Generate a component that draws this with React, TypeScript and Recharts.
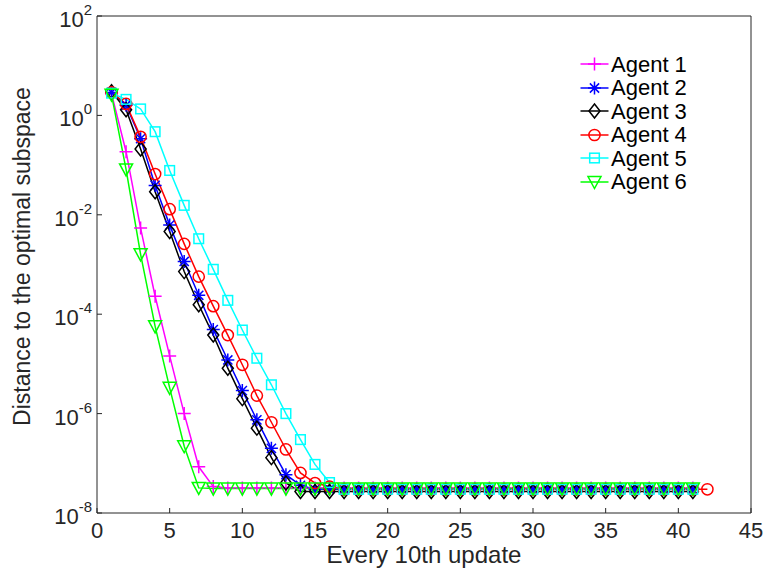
import { Line, LineChart, XAxis, YAxis } from "recharts";

const FONT = '"Liberation Sans", Arial, Helvetica, sans-serif';
const AXIS = "#262626";

const xTicks = [0, 5, 10, 15, 20, 25, 30, 35, 40, 45];
const yTicks = [1e-8, 1e-6, 1e-4, 1e-2, 1, 100];

// values read per update index, starting at 1
const agent1 = [
  2.75, 0.186, 5.4e-3, 2.3e-4, 1.45e-5, 1.0e-6, 8.5e-8, 3.4e-8, 3.2e-8, 3.2e-8,
  3.2e-8, 3.2e-8, 3.2e-8, 3.2e-8, 3.2e-8, 3.2e-8, 3.2e-8, 3.2e-8, 3.2e-8, 3.2e-8,
  3.2e-8, 3.2e-8, 3.2e-8, 3.2e-8, 3.2e-8, 3.2e-8, 3.2e-8, 3.2e-8, 3.2e-8, 3.2e-8,
  3.2e-8, 3.2e-8, 3.2e-8, 3.2e-8, 3.2e-8, 3.2e-8, 3.2e-8, 3.2e-8, 3.2e-8, 3.2e-8,
  3.2e-8,
];
const agent2 = [
  2.9, 1.6, 0.34, 0.039, 6.2e-3, 1.15e-3, 2.4e-4, 4.9e-5, 1.2e-5, 2.9e-6,
  7.5e-7, 2.0e-7, 5.9e-8, 3.6e-8, 3.0e-8, 3.0e-8, 3.0e-8, 3.0e-8, 3.0e-8, 3.0e-8,
  3.0e-8, 3.0e-8, 3.0e-8, 3.0e-8, 3.0e-8, 3.0e-8, 3.0e-8, 3.0e-8, 3.0e-8, 3.0e-8,
  3.0e-8, 3.0e-8, 3.0e-8, 3.0e-8, 3.0e-8, 3.0e-8, 3.0e-8, 3.0e-8, 3.0e-8, 3.0e-8,
  3.0e-8,
];
const agent3 = [
  3.0, 1.3, 0.21, 0.029, 4.6e-3, 7.2e-4, 1.55e-4, 3.8e-5, 8.2e-6, 2.0e-6,
  5.1e-7, 1.3e-7, 4.0e-8, 2.7e-8, 2.7e-8, 2.7e-8, 2.7e-8, 2.7e-8, 2.7e-8, 2.7e-8,
  2.7e-8, 2.7e-8, 2.7e-8, 2.7e-8, 2.7e-8, 2.7e-8, 2.7e-8, 2.7e-8, 2.7e-8, 2.7e-8,
  2.7e-8, 2.7e-8, 2.7e-8, 2.7e-8, 2.7e-8, 2.7e-8, 2.7e-8, 2.7e-8, 2.7e-8, 2.7e-8,
  2.7e-8,
];
const agent4 = [
  2.9, 1.7, 0.37, 0.066, 0.013, 2.6e-3, 5.7e-4, 1.45e-4, 3.8e-5, 9.6e-6,
  2.3e-6, 6.7e-7, 1.9e-7, 6.4e-8, 4.0e-8, 3.4e-8, 3.0e-8, 3.0e-8, 3.0e-8, 3.0e-8,
  3.0e-8, 3.0e-8, 3.0e-8, 3.0e-8, 3.0e-8, 3.0e-8, 3.0e-8, 3.0e-8, 3.0e-8, 3.0e-8,
  3.0e-8, 3.0e-8, 3.0e-8, 3.0e-8, 3.0e-8, 3.0e-8, 3.0e-8, 3.0e-8, 3.0e-8, 3.0e-8,
  3.0e-8, 3.0e-8,
];
const agent5 = [
  2.8, 2.1, 1.35, 0.47, 0.078, 0.0155, 3.3e-3, 8.0e-4, 1.9e-4, 4.8e-5,
  1.3e-5, 3.8e-6, 1.0e-6, 3.0e-7, 9.5e-8, 4.1e-8, 3.0e-8, 3.0e-8, 3.0e-8, 3.0e-8,
  3.0e-8, 3.0e-8, 3.0e-8, 3.0e-8, 3.0e-8, 3.0e-8, 3.0e-8, 3.0e-8, 3.0e-8, 3.0e-8,
  3.0e-8, 3.0e-8, 3.0e-8, 3.0e-8, 3.0e-8, 3.0e-8, 3.0e-8, 3.0e-8, 3.0e-8, 3.0e-8,
  3.0e-8,
];
const agent6 = [
  2.6, 0.082, 1.6e-3, 5.7e-5, 3.3e-6, 2.2e-7, 3.2e-8, 3.1e-8, 3.1e-8, 3.1e-8,
  3.1e-8, 3.1e-8, 3.1e-8, 3.1e-8, 3.1e-8, 3.1e-8, 3.1e-8, 3.1e-8, 3.1e-8, 3.1e-8,
  3.1e-8, 3.1e-8, 3.1e-8, 3.1e-8, 3.1e-8, 3.1e-8, 3.1e-8, 3.1e-8, 3.1e-8, 3.1e-8,
  3.1e-8, 3.1e-8, 3.1e-8, 3.1e-8, 3.1e-8, 3.1e-8, 3.1e-8, 3.1e-8, 3.1e-8, 3.1e-8,
  3.1e-8,
];

const AGENTS = [
  { key: "a1", name: "Agent 1", color: "#ff00ff", marker: "plus", values: agent1 },
  { key: "a2", name: "Agent 2", color: "#0000ff", marker: "star", values: agent2 },
  { key: "a3", name: "Agent 3", color: "#000000", marker: "diamond", values: agent3 },
  { key: "a4", name: "Agent 4", color: "#ff0000", marker: "circle", values: agent4 },
  { key: "a5", name: "Agent 5", color: "#00ffff", marker: "square", values: agent5 },
  { key: "a6", name: "Agent 6", color: "#00ff00", marker: "tri", values: agent6 },
];

const maxLen = Math.max(...AGENTS.map((a) => a.values.length));
const rows = Array.from({ length: maxLen }, (_, i) => {
  const r: Record<string, number> = { x: i + 1 };
  AGENTS.forEach((a) => {
    if (i < a.values.length) r[a.key] = a.values[i];
  });
  return r;
});

function Marker(props: { kind: string; cx: number; cy: number; color: string }) {
  const { kind, cx, cy, color } = props;
  const common = { stroke: color, strokeWidth: 1.5, fill: "none" };
  switch (kind) {
    case "plus":
      return <path d={`M${cx - 6.5},${cy}H${cx + 6.5}M${cx},${cy - 6.5}V${cy + 6.5}`} {...common} />;
    case "star": {
      const d = 4.6;
      return (
        <path
          d={`M${cx - 6.5},${cy}H${cx + 6.5}M${cx},${cy - 6.5}V${cy + 6.5}M${cx - d},${cy - d}L${cx + d},${cy + d}M${cx - d},${cy + d}L${cx + d},${cy - d}`}
          {...common}
        />
      );
    }
    case "diamond":
      return <path d={`M${cx},${cy - 7}L${cx + 5.5},${cy}L${cx},${cy + 7}L${cx - 5.5},${cy}Z`} {...common} />;
    case "circle":
      return <circle cx={cx} cy={cy} r={5.6} {...common} />;
    case "square":
      return <rect x={cx - 4.8} y={cy - 4.8} width={9.6} height={9.6} {...common} />;
    default:
      return <path d={`M${cx - 6.5},${cy - 5.5}L${cx + 6.5},${cy - 5.5}L${cx},${cy + 6.5}Z`} {...common} />;
  }
}

function XTick(props: any) {
  const { x, y, payload } = props;
  return (
    <text x={x} y={y} textAnchor="middle" fontFamily={FONT} fontSize={22} fill={AXIS}>
      {payload.value}
    </text>
  );
}

function YTick(props: any) {
  const { x, y, payload } = props;
  const exp = Math.round(Math.log10(payload.value));
  return (
    <text x={x} y={y + 11} textAnchor="end" fontFamily={FONT} fontSize={22} fill={AXIS}>
      <tspan>10</tspan>
      <tspan dy={-12} fontSize={15}>
        {exp}
      </tspan>
    </text>
  );
}

const XLabel = () => (
  <text x={424} y={563} textAnchor="middle" fontFamily={FONT} fontSize={24} fill={AXIS}>
    Every 10th update
  </text>
);

const YLabel = () => (
  <text
    x={0}
    y={0}
    transform="translate(29.5,256.5) rotate(-90)"
    textAnchor="middle"
    fontFamily={FONT}
    fontSize={23}
    fill={AXIS}
  >
    Distance to the optimal subspace
  </text>
);

function LegendBox() {
  return (
    <div style={{ position: "absolute", left: 578, top: 52.5, fontFamily: FONT, fontSize: 22 }}>
      {AGENTS.map((a) => (
        <div key={a.key} style={{ display: "flex", alignItems: "center", height: 23.5 }}>
          <svg width={33} height={20} style={{ display: "block" }}>
            <line x1={2.5} y1={10} x2={30.5} y2={10} stroke={a.color} strokeWidth={1.5} />
            <Marker kind={a.marker} cx={16.5} cy={10} color={a.color} />
          </svg>
          <span style={{ color: "#000", lineHeight: "23.5px", whiteSpace: "nowrap" }}>{a.name}</span>
        </div>
      ))}
    </div>
  );
}

export default function App() {
  return (
    <div style={{ position: "absolute", left: 0, top: 0, width: 765, height: 571, background: "#fff" }}>
      <LineChart width={765} height={571} data={rows} margin={{ top: 0, right: 0, bottom: 0, left: 0 }}>
        <XAxis
          dataKey="x"
          type="number"
          domain={[0, 45]}
          ticks={xTicks}
          height={58}
          stroke={AXIS}
          tickSize={-5}
          tickMargin={30}
          tick={<XTick />}
          label={XLabel}
        />
        <XAxis
          xAxisId="top"
          orientation="top"
          dataKey="x"
          type="number"
          domain={[0, 45]}
          ticks={xTicks}
          height={16}
          stroke={AXIS}
          tickSize={-5}
          tick={false}
        />
        <YAxis
          scale="log"
          type="number"
          domain={[1e-8, 100]}
          ticks={yTicks}
          width={97}
          stroke={AXIS}
          tickSize={-5}
          tickMargin={10}
          tick={<YTick />}
          allowDataOverflow
          label={YLabel}
        />
        <YAxis
          yAxisId="right"
          orientation="right"
          scale="log"
          type="number"
          domain={[1e-8, 100]}
          ticks={yTicks}
          width={14}
          stroke={AXIS}
          tickSize={-5}
          tick={false}
          allowDataOverflow
        />
        {AGENTS.map((a) => (
          <Line
            key={a.key}
            dataKey={a.key}
            name={a.name}
            stroke={a.color}
            strokeWidth={1.5}
            type="linear"
            isAnimationActive={false}
            dot={(p: any) =>
              p.cx == null || p.cy == null || p.value == null ? (
                <g key={`${a.key}-${p.index}`} />
              ) : (
                <Marker key={`${a.key}-${p.index}`} kind={a.marker} cx={p.cx} cy={p.cy} color={a.color} />
              )
            }
            activeDot={false}
          />
        ))}
      </LineChart>
      <LegendBox />
    </div>
  );
}
